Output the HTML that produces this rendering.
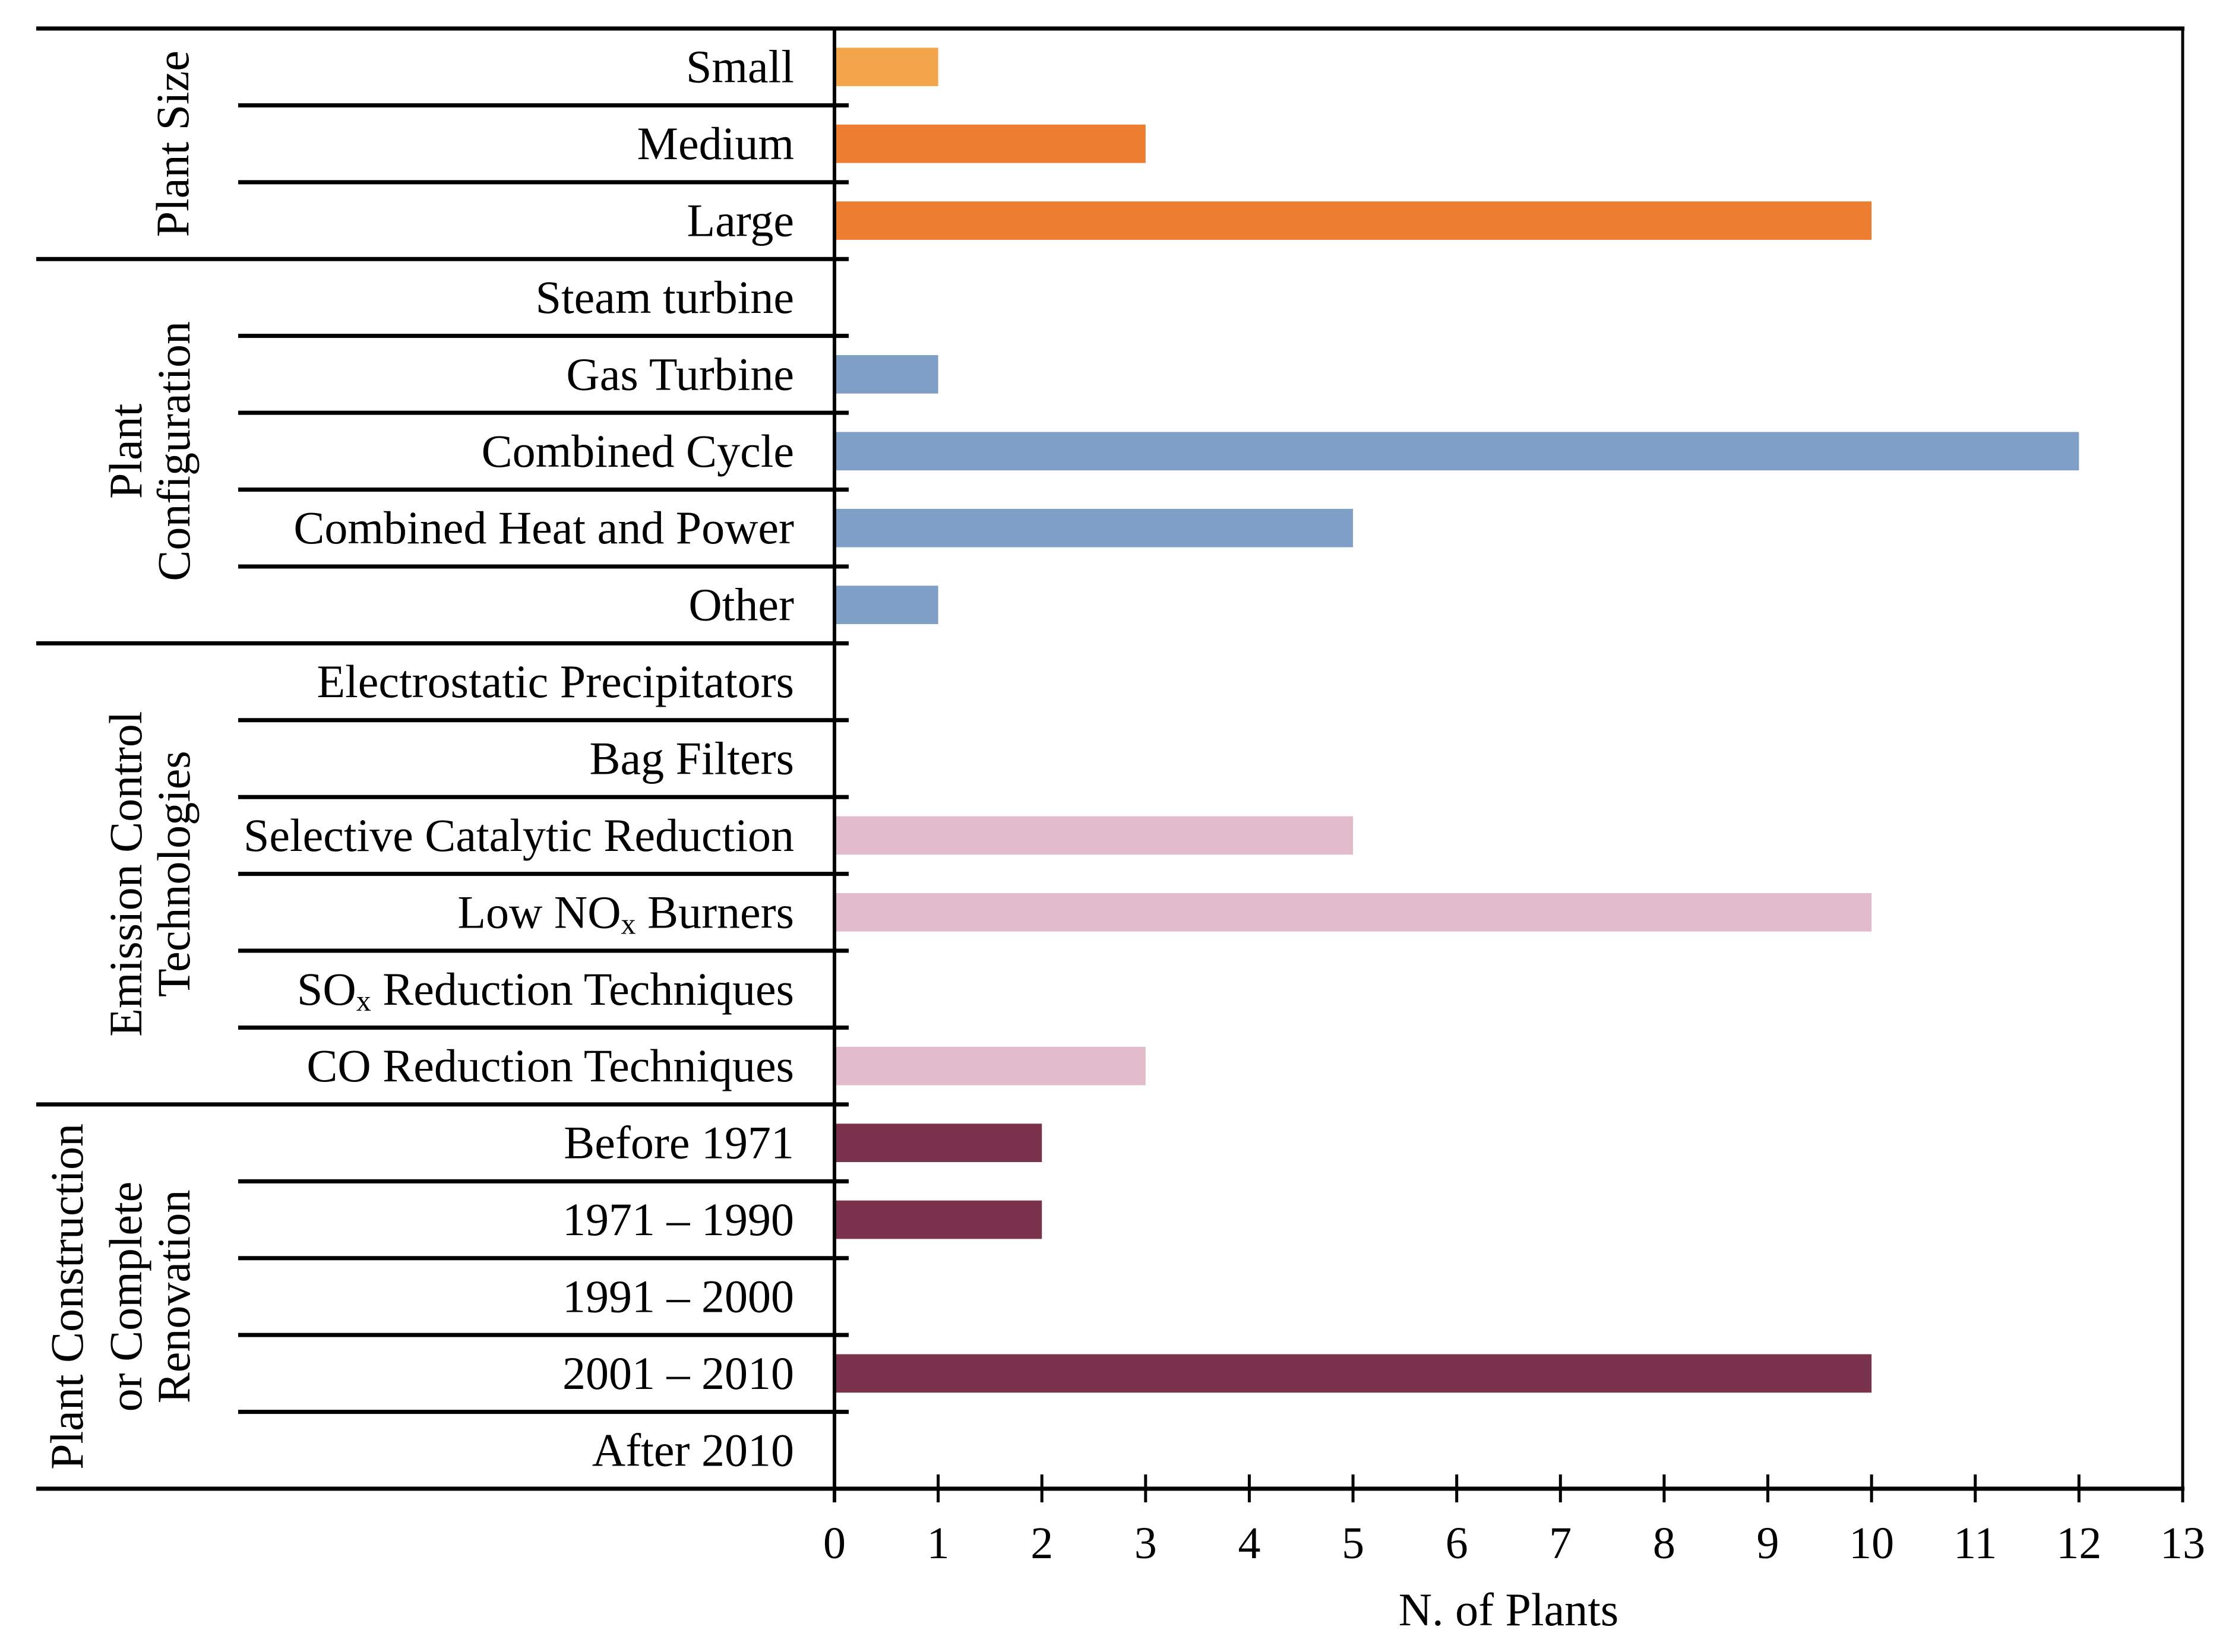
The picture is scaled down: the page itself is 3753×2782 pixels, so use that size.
<!DOCTYPE html>
<html><head><meta charset="utf-8"><style>
html,body{margin:0;padding:0;background:#fff;}
svg{display:block;}
text{font-family:"Liberation Serif",serif;fill:#000;}
</style></head><body>
<svg id="chart" width="3753" height="2782" viewBox="0 0 3753 2782" xmlns="http://www.w3.org/2000/svg">
<g id="bars"></g>
<g id="grid"></g>
<g id="labels"></g>
<g id="axis"></g>
</svg>
<script>
const categories = ["Small","Medium","Large","Steam turbine","Gas Turbine","Combined Cycle","Combined Heat and Power","Other","Electrostatic Precipitators","Bag Filters","Selective Catalytic Reduction","Low NOx Burners","SOx Reduction Techniques","CO Reduction Techniques","Before 1971","1971 \u2013 1990","1991 \u2013 2000","2001 \u2013 2010","After 2010"];
const values = [1,3,10,0,1,12,5,1,0,0,5,10,0,3,2,2,0,10,0];
const barColors = ["#F2A54A","#ED7D31","#ED7D31","#7F9FC6","#7F9FC6","#7F9FC6","#7F9FC6","#7F9FC6","#E3BCCB","#E3BCCB","#E3BCCB","#E3BCCB","#E3BCCB","#E3BCCB","#7B334D","#7B334D","#7B334D","#7B334D","#7B334D"];
const groupNames = [["Plant Size"],["Plant","Configuration"],["Emission Control","Technologies"],["Plant Construction","or Complete","Renovation"]];
const groupStarts = [0,3,8,14];
const groupEnds = [3,8,14,19];
const xTicks = [0,1,2,3,4,5,6,7,8,9,10,11,12,13];

const NS="http://www.w3.org/2000/svg";
const X0=1405, X1=3675, TOP=48, BOT=2507;
const xMax=13;
const rowH=(BOT-TOP)/categories.length;
function xs(v){return X0+(X1-X0)*v/xMax;}
function ys(i){return TOP+rowH*i;}
function mk(tag,attrs,parent){const e=document.createElementNS(NS,tag);for(const k in attrs)e.setAttribute(k,attrs[k]);parent.appendChild(e);return e;}
const gB=document.getElementById('bars'),gG=document.getElementById('grid'),gL=document.getElementById('labels'),gA=document.getElementById('axis');

categories.forEach((c,i)=>{
  if(values[i]>0){
    const r=mk('rect',{x:xs(0),y:ys(i)+rowH*0.25,width:xs(values[i])-xs(0),height:rowH*0.5,fill:barColors[i]},gB);
    
    
  }
  const t=mk('text',{x:1337,y:ys(i)+rowH/2+26,'text-anchor':'end','font-size':78},gL);
  
  
  const m=c.match(/^(.*?)(NO|SO)x(.*)$/);
  if(m){
    t.appendChild(document.createTextNode(m[1]+m[2]));
    const s=mk('tspan',{'font-size':50,dy:10},t); s.textContent='x';
    const s2=mk('tspan',{dy:-10},t); s2.textContent=m[3];
  } else t.textContent=c;
});
// row separators
for(let i=1;i<categories.length;i++){
  const isGroup=groupStarts.includes(i);
  const l=mk('line',{x1:isGroup?61:401,x2:1429,y1:ys(i),y2:ys(i),stroke:'#000','stroke-width':7},gG);
  
  
}
// group labels
const colX={1:[291],2:[212,293],3:[113,212,293]};
groupNames.forEach((g,gi)=>{
  const cy=(ys(groupStarts[gi])+ys(groupEnds[gi]))/2;
  g.forEach((line,li)=>{
    const x=colX[g.length][li]+26;
    const t=mk('text',{x:x,y:cy,'text-anchor':'middle','font-size':78,transform:`rotate(-90 ${x} ${cy})`},gL);
    
    
    t.textContent=line;
  });
});
// frame
let e;
e=mk('line',{x1:61,x2:X1+3,y1:TOP,y2:TOP,stroke:'#000','stroke-width':7},gA);


e=mk('line',{x1:61,x2:X1+3,y1:BOT,y2:BOT,stroke:'#000','stroke-width':7},gA);


e=mk('line',{x1:X1,x2:X1,y1:TOP,y2:2530,stroke:'#000','stroke-width':5},gA);


e=mk('line',{x1:X0,x2:X0,y1:TOP,y2:2530,stroke:'#000','stroke-width':6},gA);


xTicks.forEach(v=>{
  const l=mk('line',{x1:xs(v),x2:xs(v),y1:2483,y2:2530,stroke:'#000','stroke-width':5},gA);
  
  
  const t=mk('text',{x:xs(v),y:2624,'text-anchor':'middle','font-size':76},gA);
  
  
  t.textContent=v;
});
e=mk('text',{x:2540,y:2737,'text-anchor':'middle','font-size':78},gA);


e.textContent='N. of Plants';
</script>
</body></html>
